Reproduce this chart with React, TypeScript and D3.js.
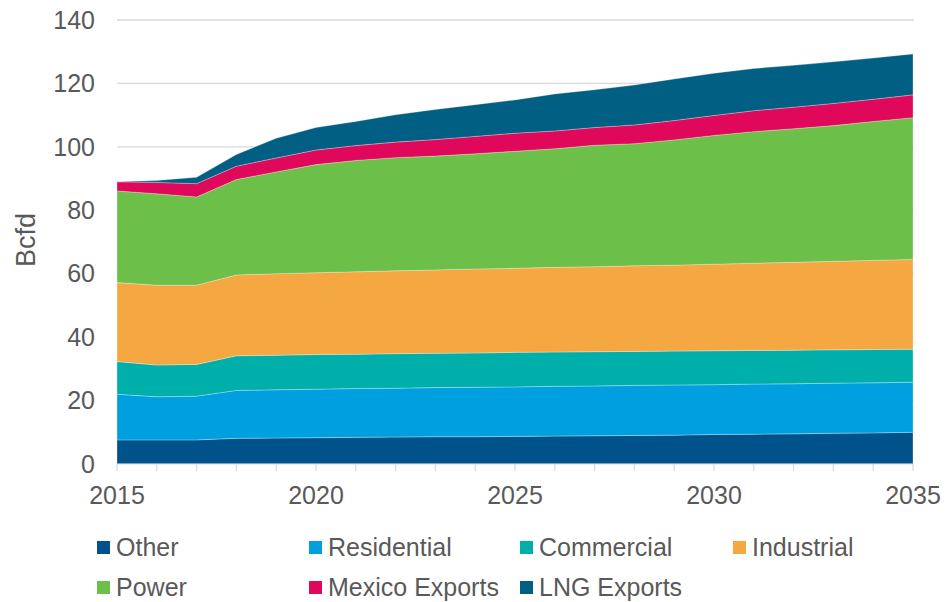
import React from "react";
import * as d3 from "d3";

const years = d3.range(2015, 2036);
const other = [7.6, 7.6, 7.6, 8.1, 8.2, 8.3, 8.4, 8.5, 8.6, 8.6, 8.7, 8.8, 8.9, 9.0, 9.1, 9.3, 9.4, 9.5, 9.7, 9.8, 10.0];
const residential = [14.4, 13.6, 13.8, 15.1, 15.2, 15.3, 15.4, 15.4, 15.5, 15.6, 15.6, 15.7, 15.7, 15.8, 15.8, 15.7, 15.8, 15.8, 15.8, 15.8, 15.8];
const commercial = [10.3, 10.0, 10.0, 10.9, 10.9, 10.9, 10.8, 10.9, 10.8, 10.8, 10.9, 10.8, 10.8, 10.7, 10.7, 10.7, 10.6, 10.6, 10.5, 10.5, 10.4];
const industrial = [24.9, 25.2, 25.0, 25.5, 25.7, 25.8, 26.0, 26.1, 26.3, 26.5, 26.5, 26.7, 26.8, 27.0, 27.1, 27.3, 27.5, 27.7, 27.9, 28.1, 28.3];
const power = [28.9, 28.8, 27.8, 30.1, 32.1, 34.1, 35.1, 35.7, 35.9, 36.3, 36.9, 37.4, 38.3, 38.5, 39.5, 40.6, 41.5, 42.1, 42.8, 43.8, 44.7];
const mexicoExports = [2.9, 3.6, 4.2, 4.2, 4.4, 4.6, 4.7, 4.9, 5.2, 5.5, 5.7, 5.6, 5.6, 5.9, 6.1, 6.3, 6.6, 6.8, 7.0, 7.0, 7.2];
const lngExports = [0, 0.6, 2.0, 3.7, 6.2, 7.1, 7.6, 8.6, 9.5, 10.0, 10.5, 11.7, 11.9, 12.6, 13.1, 13.3, 13.3, 13.2, 13.1, 13.0, 12.9];

const seriesNames = ["Other", "Residential", "Commercial", "Industrial", "Power", "Mexico Exports", "LNG Exports"];
const seriesValues = [other, residential, commercial, industrial, power, mexicoExports, lngExports];
const seriesColors = ["#00538a", "#00a0e0", "#00afa9", "#f5a742", "#6cc04a", "#e0085a", "#005f83"];
const yTicks = [0, 20, 40, 60, 80, 100, 120, 140];
const xTickLabels = [2015, 2020, 2025, 2030, 2035];

const W = 947;
const H = 602;
const M = { left: 117, right: 34, top: 20, bottom: 138 };
const FONT = "'Liberation Sans', Arial, sans-serif";
const TEXT = "#595959";
const GRID = "#d9d9d9";

export default function App() {
  const x = d3.scaleLinear().domain([2015, 2035]).range([M.left, W - M.right]);
  const y = d3.scaleLinear().domain([0, 140]).range([H - M.bottom, M.top]);

  const table = years.map((yr, i) => {
    const row: any = { year: yr };
    seriesNames.forEach((n, k) => (row[n] = seriesValues[k][i]));
    return row;
  });
  const stacked = d3.stack<any>().keys(seriesNames)(table);
  const area = d3
    .area<any>()
    .x((d) => x(d.data.year))
    .y0((d) => y(d[0]))
    .y1((d) => y(d[1]));

  const legendCols = [97, 309, 520, 733];
  const legendRows = [547, 587];

  return (
    <svg width={W} height={H} style={{ position: "absolute", left: 0, top: 0, background: "#fff" }} fontFamily={FONT}>
      {yTicks.map((t) => (
        <g key={t}>
          {t > 0 && <line x1={x(2015)} x2={x(2035) + 1} y1={y(t)} y2={y(t)} stroke={GRID} strokeWidth={1.3} />}
          <text x={95} y={y(t)} dy="0.35em" textAnchor="end" fontSize={25} fill={TEXT}>
            {t}
          </text>
        </g>
      ))}
      {stacked.map((s, k) => (
        <path key={s.key} d={area(s) || ""} fill={seriesColors[k]} stroke="#ffffff" strokeOpacity={0.35} strokeWidth={0.8} />
      ))}
      <line x1={x(2015)} x2={x(2035)} y1={y(0)} y2={y(0)} stroke={GRID} strokeWidth={1} />
      {years.map((yr) => (
        <line key={yr} x1={x(yr)} x2={x(yr)} y1={y(0)} y2={y(0) + 7} stroke={GRID} strokeWidth={1.2} />
      ))}
      {xTickLabels.map((yr) => (
        <text key={yr} x={x(yr)} y={504} textAnchor="middle" fontSize={25} fill={TEXT}>
          {yr}
        </text>
      ))}
      <text transform={`translate(35,240) rotate(-90)`} textAnchor="middle" fontSize={27} fill={TEXT}>
        Bcfd
      </text>
      {seriesNames.map((n, k) => {
        const col = k < 4 ? k : k - 4;
        const row = k < 4 ? 0 : 1;
        const lx = legendCols[col];
        const ly = legendRows[row];
        return (
          <g key={n}>
            <rect x={lx} y={ly - 6} width={13} height={13} fill={seriesColors[k]} />
            <text x={lx + 19} y={ly} dy="0.35em" fontSize={25} fill={TEXT}>
              {n}
            </text>
          </g>
        );
      })}
    </svg>
  );
}
